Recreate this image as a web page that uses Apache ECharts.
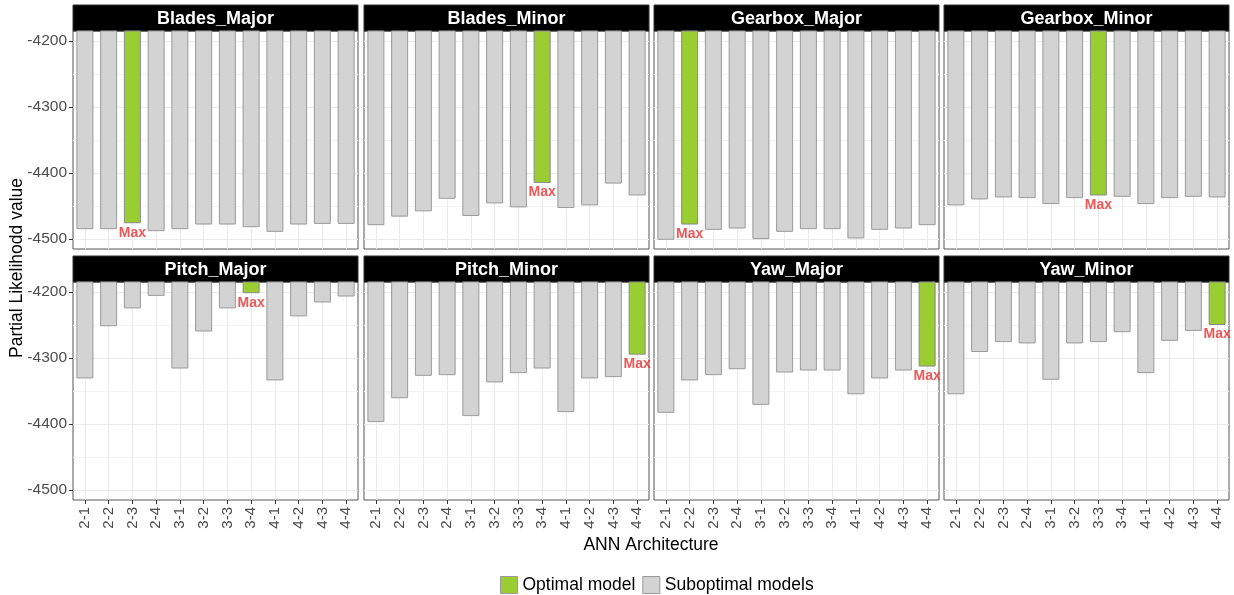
<!DOCTYPE html>
<html><head><meta charset="utf-8">
<script src="https://cdn.jsdelivr.net/npm/echarts@6/dist/echarts.min.js"></script>
<style>html,body{margin:0;padding:0;background:#fff}#c{width:1234px;height:595px}</style>
</head><body><div id="c"></div>
<script>
const categories = ['2-1','2-2','2-3','2-4','3-1','3-2','3-3','3-4','4-1','4-2','4-3','4-4'];
const panelNames = ['Blades_Major','Blades_Minor','Gearbox_Major','Gearbox_Minor','Pitch_Major','Pitch_Minor','Yaw_Major','Yaw_Minor'];
const bladesMajor  = [-4485,-4485,-4476,-4488,-4485,-4478,-4478,-4482,-4489,-4478,-4477,-4477];
const bladesMinor  = [-4479,-4466,-4458,-4439,-4465,-4446,-4452,-4415,-4453,-4449,-4416,-4434];
const gearboxMajor = [-4501,-4478,-4486,-4484,-4500,-4489,-4485,-4485,-4499,-4486,-4484,-4479];
const gearboxMinor = [-4449,-4440,-4437,-4438,-4447,-4438,-4434,-4436,-4447,-4438,-4436,-4437];
const pitchMajor   = [-4331,-4252,-4225,-4206,-4316,-4260,-4225,-4202,-4334,-4237,-4216,-4207];
const pitchMinor   = [-4397,-4361,-4327,-4326,-4388,-4337,-4323,-4316,-4382,-4331,-4329,-4295];
const yawMajor     = [-4383,-4334,-4326,-4317,-4371,-4322,-4319,-4319,-4355,-4331,-4319,-4313];
const yawMinor     = [-4355,-4291,-4276,-4278,-4333,-4278,-4276,-4261,-4323,-4274,-4259,-4250];
const panelValues = [bladesMajor, bladesMinor, gearboxMajor, gearboxMinor, pitchMajor, pitchMinor, yawMajor, yawMinor];
const yTickValues = [-4500,-4400,-4300,-4200];
const yMinorValues = [-4450,-4350,-4250];
const yRange = [-4515,-4185];
const legendNames = ['Optimal model','Suboptimal models'];

const FONT = "'Liberation Sans', Arial, sans-serif";
const lefts = [73, 364, 654, 944];
const tops = [31, 282];
const W = 285, H = 218, STRIP = 26;

const chart = echarts.init(document.getElementById('c'), null, {renderer:'canvas'});
const grids = [], xAxes = [], yAxes = [], series = [], graphics = [];

panelValues.forEach((vals, p) => {
  const col = p % 4, row = Math.floor(p / 4);
  const left = lefts[col], top = tops[row];
  grids.push({left: left, top: top, width: W, height: H, show: true, backgroundColor: '#fff', borderColor: '#555', borderWidth: 1, containLabel: false});
  xAxes.push({
    type: 'category', gridIndex: p, data: categories, boundaryGap: true,
    axisLine: {show: false},
    axisTick: {show: row === 1, alignWithLabel: true, length: 4, lineStyle: {color: '#333'}},
    axisLabel: {show: row === 1, rotate: 90, interval: 0, margin: 7, fontSize: 15, color: '#4D4D4D', fontFamily: FONT},
    splitLine: {show: false}
  });
  yAxes.push({
    type: 'value', gridIndex: p, min: yRange[0], max: yRange[1], splitNumber: 3,
    axisLine: {show: false},
    axisTick: {show: col === 0, length: 4, lineStyle: {color: '#333'}, customValues: yTickValues},
    axisLabel: {show: col === 0, margin: 6, fontSize: 15.5, color: '#4D4D4D', fontFamily: FONT,
      customValues: yTickValues,
      formatter: v => String(v)},
    splitLine: {show: false}, minorSplitLine: {show: false}
  });
  let maxIdx = 0;
  vals.forEach((v, i) => { if (v > vals[maxIdx]) maxIdx = i; });
  const gridLines = [];
  yMinorValues.forEach(v => gridLines.push({yAxis: v, lineStyle: {color: '#F3F3F3', width: 1, type: 'solid'}}));
  yTickValues.forEach(v => gridLines.push({yAxis: v, lineStyle: {color: '#EBEBEB', width: 1, type: 'solid'}}));
  categories.forEach(c => gridLines.push({xAxis: c, lineStyle: {color: '#EBEBEB', width: 1, type: 'solid'}}));
  series.push({
    type: 'line', name: 'grid' + p, xAxisIndex: p, yAxisIndex: p, silent: true, z: 1,
    data: categories.map(() => '-'), symbol: 'none', animation: false,
    markLine: {silent: true, symbol: 'none', z: 1, animation: false, label: {show: false}, data: gridLines}
  });
  series.push({
    type: 'bar', name: legendNames[1], xAxisIndex: p, yAxisIndex: p, barWidth: 17, barGap: '-100%', z: 2,
    itemStyle: {color: '#D3D3D3', borderColor: '#9A9A9A', borderWidth: 1},
    data: vals.map((v, i) => i === maxIdx ? '-' : v), animation: false, clip: true
  });
  series.push({
    type: 'bar', name: legendNames[0], xAxisIndex: p, yAxisIndex: p, barWidth: 17, barGap: '-100%', z: 2,
    itemStyle: {color: '#9ACD32', borderColor: '#8A8A8A', borderWidth: 1},
    data: vals.map((v, i) => i === maxIdx ? v : '-'), animation: false, clip: true
  });
  series.push({
    type: 'scatter', name: 'max' + p, xAxisIndex: p, yAxisIndex: p, z: 5, symbolSize: 1, silent: true,
    itemStyle: {color: 'rgba(0,0,0,0)'}, clip: false, animation: false,
    data: [[categories[maxIdx], vals[maxIdx]]],
    label: {show: true, position: 'bottom', distance: 2, formatter: 'Max', color: '#EE2C2C', fontWeight: 'bold', fontSize: 14, fontFamily: FONT}
  });
  graphics.push({
    type: 'group', z: 100, children: [
      {type: 'rect', shape: {x: left, y: top - STRIP, width: W, height: STRIP}, style: {fill: '#000', stroke: '#333', lineWidth: 1}},
      {type: 'text', x: left + W / 2, y: top - STRIP / 2 + 1, style: {text: panelNames[p], fill: '#fff', fontSize: 18, fontWeight: 'bold', fontFamily: FONT, align: 'center', verticalAlign: 'middle'}}
    ]
  });
});

graphics.push({type: 'text', x: 651, y: 545, style: {text: 'ANN Architecture', fill: '#000', fontSize: 17.5, fontFamily: FONT, align: 'center', verticalAlign: 'middle'}});
graphics.push({type: 'text', x: 17, y: 268, rotation: Math.PI / 2, style: {text: 'Partial Likelihodd value', fill: '#000', fontSize: 17.5, fontFamily: FONT, align: 'center', verticalAlign: 'middle'}});

chart.setOption({
  animation: false,
  backgroundColor: '#fff',
  grid: grids, xAxis: xAxes, yAxis: yAxes, series: series, graphic: graphics,
  legend: {
    data: legendNames, left: 495, top: 571, orient: 'horizontal',
    itemWidth: 17, itemHeight: 17, itemGap: 7, icon: 'rect', selectedMode: false,
    itemStyle: {borderColor: '#9A9A9A', borderWidth: 1},
    textStyle: {fontSize: 17.5, color: '#000', fontFamily: FONT}
  }
});
</script></body></html>
